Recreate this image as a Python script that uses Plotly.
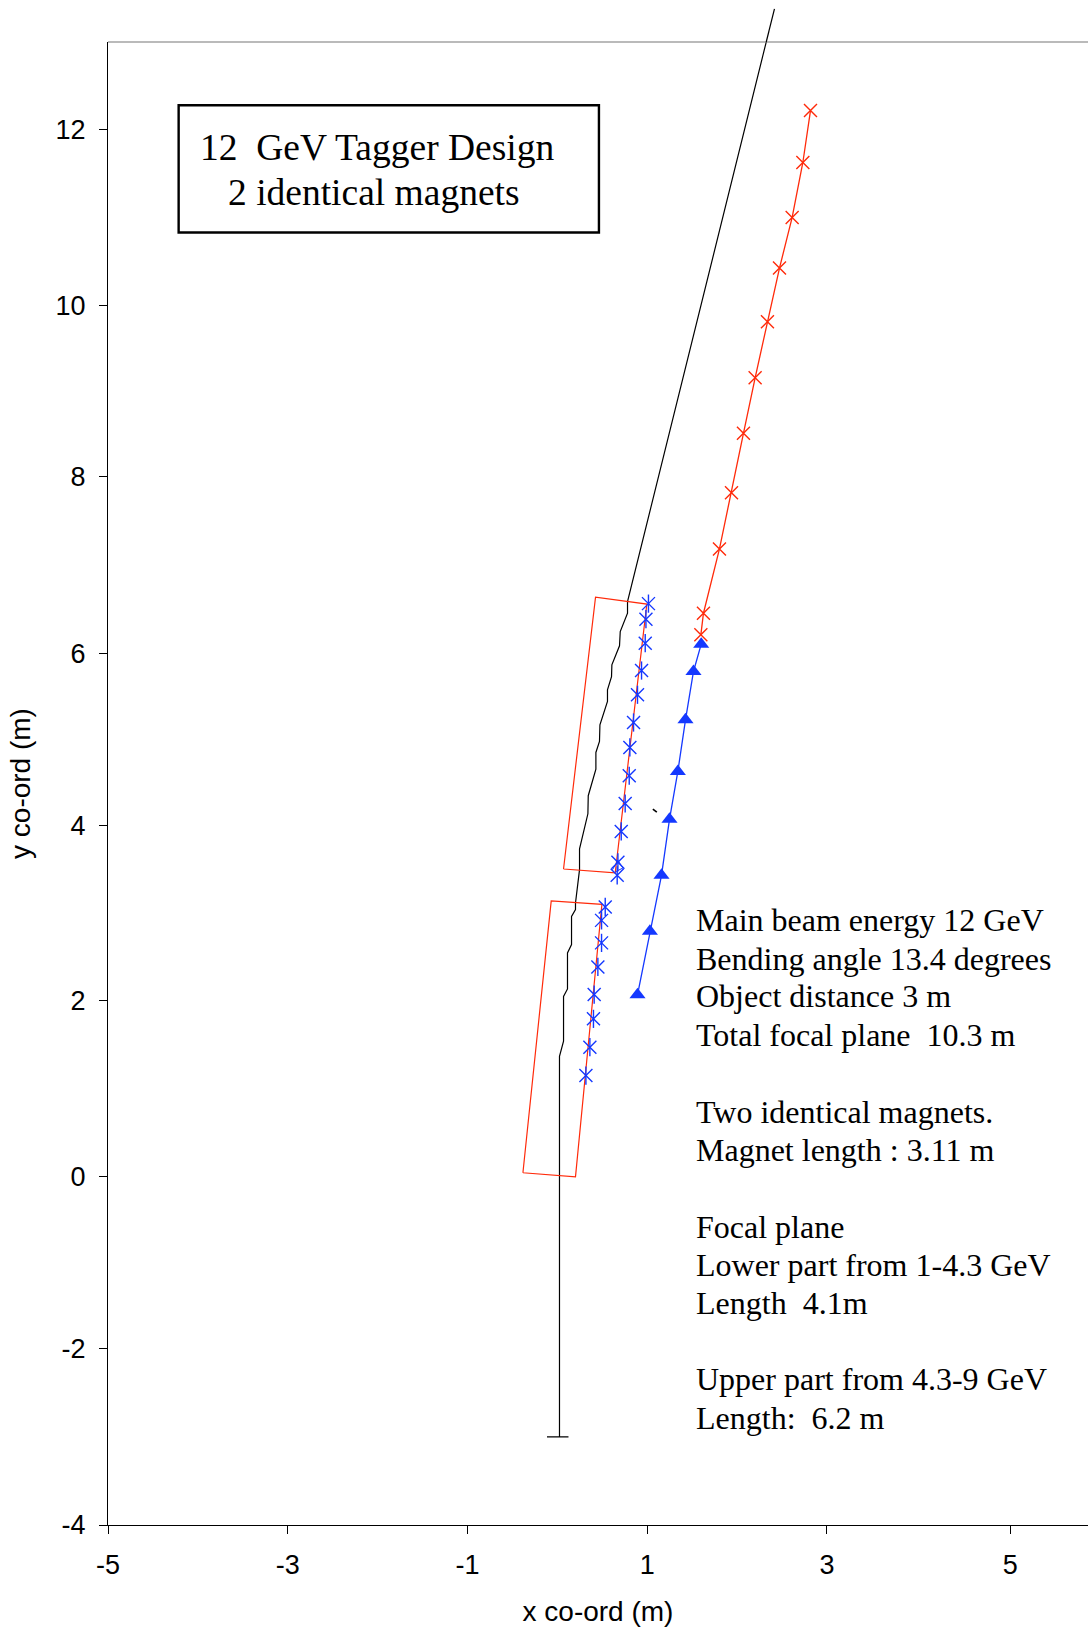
import plotly.graph_objects as go

RED = "#ff2a0a"
BLUE = "#1438ff"

# Series (x, y in metres)
beam_x = [2.416, 0.781, 0.781, 0.700, 0.692, 0.607, 0.603, 0.558, 0.558, 0.474, 0.469, 0.429, 0.429,
          0.344, 0.340, 0.247, 0.247, 0.202, 0.202, 0.158, 0.158, 0.113, 0.113, 0.069, 0.069, 0.024,
          0.024, -0.115, 0.124]
beam_y = [13.38, 6.585, 6.452, 6.242, 6.078, 5.860, 5.726, 5.574, 5.440, 5.173, 4.982, 4.856, 4.665,
          4.360, 4.153, 3.752, 3.512, 3.131, 3.054, 2.977, 2.653, 2.557, 2.145, 2.060, 1.545, 1.373,
          -2.99, -2.99, -2.99]

tick_mark_x = [1.063, 1.107]
tick_mark_y = [4.207, 4.173]

magnet1_x = [-0.383, -0.068, 0.496, 0.202, -0.383]
magnet1_y = [0.038, 3.154, 3.115, -0.008, 0.038]
magnet2_x = [0.069, 0.425, 0.996, 0.644, 0.069]
magnet2_y = [3.520, 6.636, 6.556, 3.477, 3.520]

inner_x = [0.533, 0.492, 0.492, 0.451, 0.410, 0.402, 0.362, 0.318, None,
           1.014, 0.986, 0.978, 0.937, 0.892, 0.848, 0.807, 0.800, 0.755, 0.711, 0.674, 0.666]
inner_y = [3.085, 2.931, 2.673, 2.397, 2.080, 1.802, 1.477, 1.152, None,
           6.562, 6.384, 6.109, 5.795, 5.517, 5.199, 4.913, 4.589, 4.271, 3.951, 3.596, 3.447]

kink_x = [0.614, 0.674, 0.730, 0.644]
kink_y = [3.512, 3.619, 3.532, 3.486]

lower_fp_x = [0.892, 1.030, 1.159, 1.248, 1.341, 1.426, 1.515, 1.601]
lower_fp_y = [2.077, 2.805, 3.447, 4.089, 4.638, 5.230, 5.784, 6.097]

upper_fp_x = [1.597, 1.626, 1.804, 1.938, 2.071, 2.201, 2.338, 2.472, 2.613, 2.732, 2.817]
upper_fp_y = [6.204, 6.452, 7.189, 7.834, 8.514, 9.151, 9.793, 10.408, 10.989, 11.619, 12.214]

x_tick_vals = [-5, -3, -1, 1, 3, 5.04]
x_tick_text = ["-5", "-3", "-1", "1", "3", "5"]
y_tick_vals = [-4, -1.975, -0.007, 2.008, 4.022, 5.992, 8.014, 9.978, 12]
y_tick_text = ["-4", "-2", "0", "2", "4", "6", "8", "10", "12"]

title_lines = [("12  GeV Tagger Design", -4.003, 11.786), ("2 identical magnets", -3.69, 11.276)]
note_lines = [
    ("Main beam energy 12 GeV", 2.94),
    ("Bending angle 13.4 degrees", 2.49),
    ("Object distance 3 m", 2.06),
    ("Total focal plane  10.3 m", 1.62),
    ("Two identical magnets.", 0.74),
    ("Magnet length : 3.11 m", 0.30),
    ("Focal plane", -0.58),
    ("Lower part from 1-4.3 GeV", -1.02),
    ("Length  4.1m", -1.46),
    ("Upper part from 4.3-9 GeV", -2.33),
    ("Length:  6.2 m", -2.77),
]

Y_MIN, Y_MAX = -4, 13

fig = go.Figure()


def line(x, y, color, width=1.2):
    fig.add_trace(go.Scatter(x=x, y=y, mode="lines", line=dict(color=color, width=width),
                             showlegend=False, hoverinfo="skip"))


line(beam_x, beam_y, "#000000")
line(tick_mark_x, tick_mark_y, "#000000", 1.6)
line(magnet1_x, magnet1_y, RED)
line(magnet2_x, magnet2_y, RED)
line(kink_x, kink_y, BLUE, 1)

for sym, size in (("x-thin-open", 13), ("line-ns-open", 13)):
    fig.add_trace(go.Scatter(x=inner_x, y=inner_y, mode="markers", showlegend=False,
                             marker=dict(symbol=sym, size=size, color=BLUE,
                                         line=dict(color=BLUE, width=1.4))))

fig.add_trace(go.Scatter(x=upper_fp_x, y=upper_fp_y, mode="lines+markers", showlegend=False,
                         line=dict(color=RED, width=1.3),
                         marker=dict(symbol="x-thin-open", size=13, color=RED,
                                     line=dict(color=RED, width=1.4))))
fig.add_trace(go.Scatter(x=lower_fp_x, y=lower_fp_y, mode="lines+markers", showlegend=False,
                         line=dict(color=BLUE, width=1.3),
                         marker=dict(symbol="triangle-up", size=14, color=BLUE,
                                     line=dict(width=0))))

serif = "Liberation Serif"
annotations = []
for text, x, y in title_lines:
    annotations.append(dict(text=text, x=x, y=y, xref="x", yref="y", xanchor="left",
                            yanchor="middle", showarrow=False,
                            font=dict(family=serif, size=37.5, color="#000")))
for text, y in note_lines:
    annotations.append(dict(text=text, x=1.524, y=y, xref="x", yref="y", xanchor="left",
                            yanchor="middle", showarrow=False,
                            font=dict(family=serif, size=32, color="#000")))

# The beam runs on above the top of the axes, where a trace's line is clipped:
# continue its first segment from the trace's own values with a shape.
t = (Y_MAX - beam_y[1]) / (beam_y[0] - beam_y[1])
beam_x_at_top = beam_x[1] + t * (beam_x[0] - beam_x[1])
shapes = [
    dict(type="rect", xref="x", yref="y", x0=-4.214, x1=0.463, y0=10.817, y1=12.275,
         line=dict(color="#000", width=2.4), fillcolor="rgba(0,0,0,0)"),
    dict(type="line", xref="paper", yref="paper", x0=0, x1=1, y0=1, y1=1,
         line=dict(color="#777777", width=1.2)),
    dict(type="line", xref="x", yref="paper", x0=beam_x_at_top, y0=1,
         x1=beam_x[0], y1=(beam_y[0] - Y_MIN) / (Y_MAX - Y_MIN),
         line=dict(color="#000", width=1.2)),
]

sans = dict(family="Liberation Sans", size=27, color="#000")
title_font = dict(family="Liberation Sans", size=28, color="#000")
fig.update_layout(
    width=1088, height=1627, autosize=False,
    margin=dict(l=107.6, r=0, t=41.7, b=101.7, pad=0),
    paper_bgcolor="#fff", plot_bgcolor="#fff",
    annotations=annotations, shapes=shapes, showlegend=False,
    xaxis=dict(range=[-5, 5.905], tickvals=x_tick_vals, ticktext=x_tick_text, ticks="outside",
               ticklen=8, tickcolor="#000", tickwidth=1, showline=True, linecolor="#000",
               linewidth=1.4, showgrid=False, zeroline=False, tickfont=sans, ticklabelstandoff=7,
               title=dict(text="x co-ord (m)", font=title_font, standoff=23)),
    yaxis=dict(range=[Y_MIN, Y_MAX], tickvals=y_tick_vals, ticktext=y_tick_text, ticks="outside",
               ticklen=8, tickcolor="#000", tickwidth=1, showline=True, linecolor="#000",
               linewidth=1.2, showgrid=False, zeroline=False, tickfont=sans, ticklabelstandoff=8,
               title=dict(text="y co-ord (m)", font=title_font, standoff=16)),
)

fig.write_html("out.html", config={"displayModeBar": False},
               post_script="document.body.style.margin='0';document.body.style.overflow='hidden';")
